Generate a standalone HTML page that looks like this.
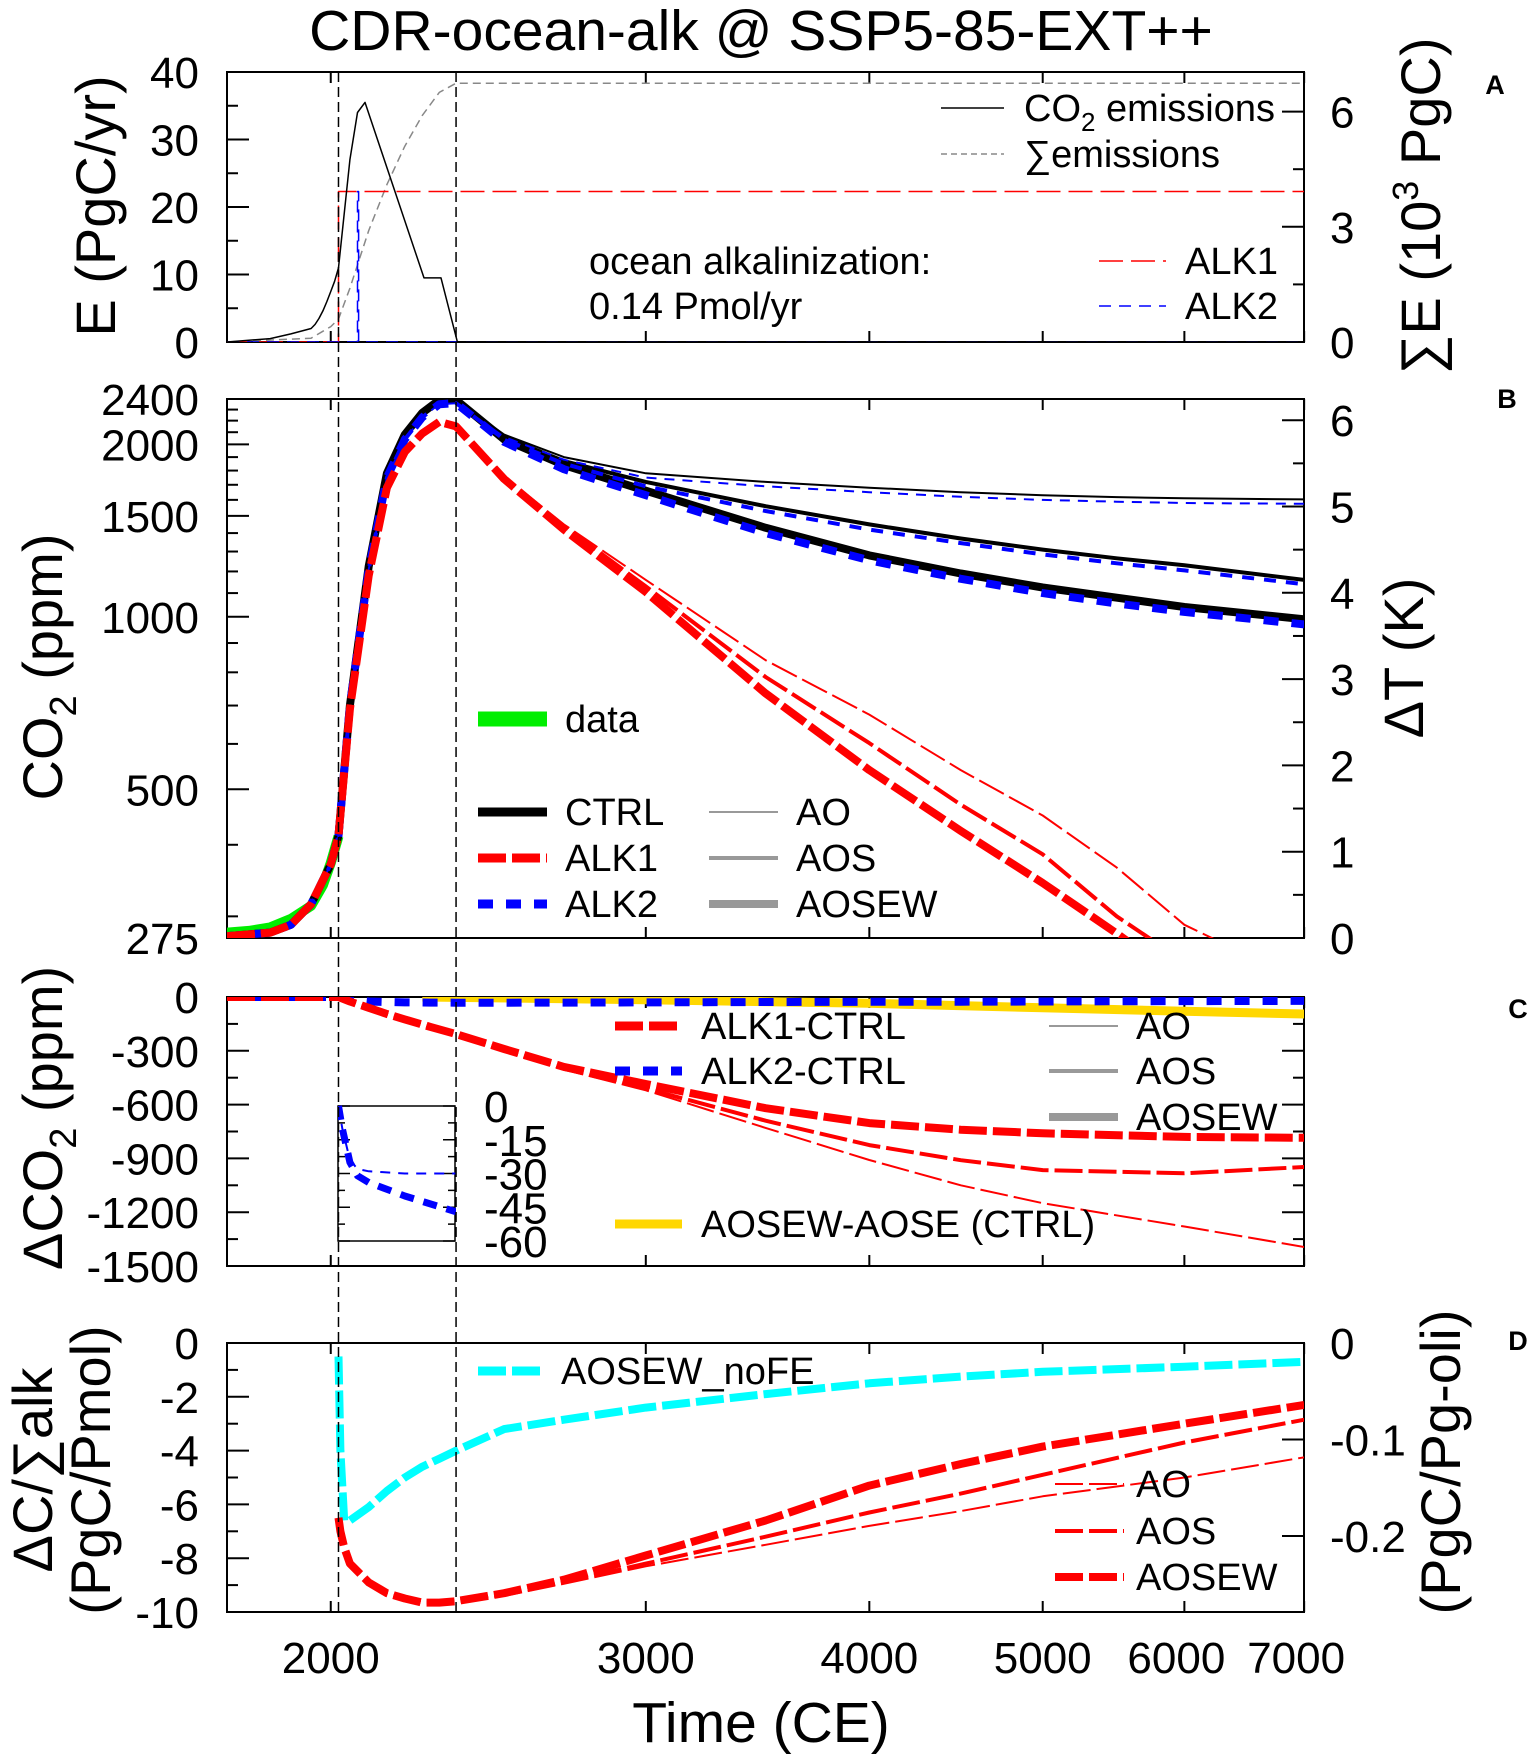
<!DOCTYPE html>
<html><head><meta charset="utf-8">
<style>
html,body{margin:0;padding:0;background:#fff;}
svg{display:block;font-family:"Liberation Sans",Arial,sans-serif;}
</style></head>
<body>
<svg id="chart" xmlns="http://www.w3.org/2000/svg" width="1540" height="1759" viewBox="0 0 1540 1759">
<rect x="0" y="0" width="1540" height="1759" fill="#fff"/>
<defs>
<clipPath id="clipA"><rect x="227" y="72" width="1077" height="270"/></clipPath>
<clipPath id="clipB"><rect x="227" y="399" width="1077" height="539"/></clipPath>
<clipPath id="clipC"><rect x="227" y="997" width="1077" height="269"/></clipPath>
<clipPath id="clipIn"><rect x="338" y="1100" width="118" height="142"/></clipPath>
<clipPath id="clipD"><rect x="227" y="1343" width="1077" height="269"/></clipPath>
</defs>
<g id="layer"></g>
</svg>
<script>
// ---------- data ----------
// Panel A
const tEmis = [1750,1850,1900,1950,1960,1970,1980,1990,2000,2010,2020,2050,2070,2090,2255,2305,2354,7000];
const emissions = [0,0.5,1.2,2,2.6,3.5,4.6,6,7.5,9,11,27,34,35.5,9.5,9.5,0,0];
const tCum = [1750,1950,2000,2020,2050,2100,2150,2200,2250,2300,2350,7000];
const cumEmissions = [0,0.1,0.4,0.6,1.4,2.9,4.1,5.1,5.9,6.5,6.74,6.74];
const tAlk1Rate = [1750,2020,2020,7000];
const alk1Rate = [0,0,22.3,22.3];
const tAlk2Rate = [1750,2070,2070,2073,2073,7000];
const alk2Rate = [0,0,22.3,22.3,0,0];
// Panel B (ppm)
const tB = [1750,1850,1900,1950,2000,2020,2050,2100,2150,2200,2250,2300,2350,2500,2700,3000,3500,4000,4500,5000,5500,6000,7000];
const ctrlAO    = [277,281,290,315,370,415,700,1225,1780,2080,2270,2390,2390,2080,1900,1780,1720,1680,1650,1630,1618,1610,1603];
const ctrlAOS   = [277,281,290,315,370,415,700,1225,1780,2080,2270,2390,2390,2060,1870,1720,1560,1450,1370,1310,1265,1230,1160];
const ctrlAOSEW = [277,281,290,315,370,415,700,1225,1780,2080,2270,2390,2390,2040,1840,1660,1430,1280,1190,1125,1080,1040,990];
const alk2AO    = [277,281,290,315,370,415,700,1210,1750,2040,2230,2350,2360,2060,1880,1750,1690,1650,1620,1600,1588,1580,1575];
const alk2AOS   = [277,281,290,315,370,415,700,1210,1750,2040,2230,2350,2360,2040,1850,1690,1530,1420,1345,1285,1240,1205,1140];
const alk2AOSEW = [277,281,290,315,370,415,700,1210,1750,2040,2230,2350,2360,2020,1810,1630,1400,1255,1165,1100,1055,1020,970];
const alk1AO    = [277,281,290,315,370,415,690,1180,1680,1940,2090,2190,2150,1760,1450,1160,840,675,540,450,365,290,230];
const alk1AOS   = [277,281,290,315,370,415,690,1180,1680,1940,2090,2190,2150,1750,1440,1130,785,602,470,385,300,250,195];
const alk1AOSEW = [277,281,290,315,370,415,690,1180,1680,1940,2090,2190,2150,1740,1420,1105,735,540,423,343,280,230,180];
const tData = [1750,1800,1850,1900,1950,1980,2000,2020];
const co2Data = [281,283,287,297,313,340,372,414];
// Panel C (ppm)
const tC = [1750,2000,2020,2050,2100,2150,2200,2275,2350,2500,2700,3000,3500,4000,4500,5000,6000,7000];
const dAlk1AO    = [0,0,0,-25,-60,-95,-125,-170,-210,-300,-405,-520,-730,-909,-1050,-1150,-1280,-1394];
const dAlk1AOS   = [0,0,0,-25,-60,-95,-125,-170,-210,-295,-400,-510,-690,-826,-910,-965,-983,-948];
const dAlk1AOSEW = [0,0,0,-25,-60,-95,-125,-168,-207,-290,-390,-485,-620,-703,-740,-760,-780,-785];
const dAlk2      = [0,0,0,-15,-25,-28,-30,-31,-32,-32,-31,-30,-28,-27,-26,-25,-23,-22];
const tYel = [2250,3000,4000,5000,6000,7000];
const dWeather = [0,-15,-35,-60,-80,-95];
const tInset = [2020,2030,2050,2070,2100,2200,2350];
const insetThick = [0,-10,-25,-31,-34,-40,-47];
const insetThin  = [0,-10,-24,-28,-29,-30,-30];
// Panel D
const tD = [2020,2025,2035,2050,2100,2150,2200,2250,2300,2350,2500,2700,3000,3500,4000,4500,5000,6000,7000];
const noFE     = [-0.5,-4,-6.6,-6.6,-6.1,-5.5,-5.0,-4.6,-4.3,-4.0,-3.2,-2.85,-2.4,-1.9,-1.5,-1.25,-1.07,-0.88,-0.7];
const effAOSEW = [-6.5,-7.0,-7.6,-8.2,-8.9,-9.3,-9.5,-9.65,-9.65,-9.6,-9.3,-8.8,-7.9,-6.6,-5.3,-4.5,-3.85,-3.0,-2.3];
const effAOS   = [-6.5,-7.0,-7.6,-8.2,-8.9,-9.3,-9.5,-9.65,-9.65,-9.6,-9.35,-8.9,-8.2,-7.2,-6.3,-5.6,-4.9,-3.7,-2.85];
const effAO    = [-6.5,-7.0,-7.6,-8.2,-8.9,-9.3,-9.5,-9.65,-9.65,-9.6,-9.4,-8.95,-8.3,-7.5,-6.8,-6.25,-5.7,-5.0,-4.25];
// ticks
const xTicks = [2000,3000,4000,5000,6000,7000];
const xTickLabels = ["2000","3000","4000","5000","6000","7000"];
const aLeftTicks = [0,10,20,30,40];
const aRightTicks = [0,3,6];
const bLeftTicks = [275,500,1000,1500,2000,2400];
const bLeftMinor = [300,400,600,700,800,900,1100,1200,1300,1400,1600,1700,1800,1900,2100,2200,2300];
const bRightTicks = [0,1,2,3,4,5,6];
const cTicks = [0,-300,-600,-900,-1200,-1500];
const insetTicks = [0,-15,-30,-45,-60];
const dLeftTicks = [0,-2,-4,-6,-8,-10];
const dRightTicks = [0,-0.1,-0.2];

// ---------- scales ----------
const X = t => 227 + 777*Math.log(t/1750);
const XL = 227, XR = 1304;
const yA = v => 342 - 6.75*v;
const yAr = v => 342 - 38.4*v;
const yB = v => 938 - 248.8*Math.log(v/275);
const yBr = v => 938 - 86.3*v;
const yC = v => 997 - v*269/1500;
const yIn = v => 1106 - v*135/60;
const yD = v => 1343 - v*26.9;
const yDr = v => 1343 - v*965;

const NS = "http://www.w3.org/2000/svg";
const layer = document.getElementById('layer');
function mk(tag, attrs, parent){
  const e = document.createElementNS(NS, tag);
  for (const k in attrs) e.setAttribute(k, attrs[k]);
  (parent||layer).appendChild(e);
  return e;
}
function series(ts, vs, yf, stroke, width, dash, clip, name){
  let d = '';
  for (let i=0;i<ts.length;i++){ d += (i?'L':'M') + X(ts[i]).toFixed(1) + ',' + yf(vs[i]).toFixed(1); }
  const p = mk('path', {d:d, fill:'none', stroke:stroke, 'stroke-width':width, 'stroke-linejoin':'round', 'clip-path':'url(#'+clip+')'});
  if (dash) p.setAttribute('stroke-dasharray', dash);
  
  
  return p;
}
function txt(x, y, s, size, anchor, name, extra){
  const t = mk('text', {x:x, y:y, 'font-size':size, 'text-anchor':anchor||'start', fill:'#000'});
  if (extra) for (const k in extra) t.setAttribute(k, extra[k]);
  t.textContent = s;
  
  
  return t;
}
function line(x1,y1,x2,y2,stroke,w,dash,name){
  const l = mk('line',{x1:x1,y1:y1,x2:x2,y2:y2,stroke:stroke,'stroke-width':w});
  if (dash) l.setAttribute('stroke-dasharray', dash);
  
  
  return l;
}
function frame(top, bot, name){
  const r = mk('rect',{x:XL,y:top,width:XR-XL,height:bot-top,fill:'none',stroke:'#000','stroke-width':2});
  
  
  xTicks.forEach(t=>{
    line(X(t),bot,X(t),bot-11,'#000',2,null,'x-tick');
    line(X(t),top,X(t),top+11,'#000',2,null,'x-tick');
  });
}
const TF = 44;

// title
txt(761, 50, 'CDR-ocean-alk @ SSP5-85-EXT++', 57, 'middle', 'chart-title');

// ---------- Panel A ----------
frame(72, 342, 'panel-a-frame');
aLeftTicks.forEach(v=>{ line(XL,yA(v),XL+22,yA(v),'#000',2,null,'a-left-tick'); txt(199,yA(v)+16,String(v),TF,'end','a-left-tick-label'); });
[5,15,25,35].forEach(v=>line(XL,yA(v),XL+11,yA(v),'#000',2,null,'a-left-minor-tick'));
aRightTicks.forEach(v=>{ line(XR,yAr(v),XR-22,yAr(v),'#000',2,null,'a-right-tick'); txt(1330,yAr(v)+16,String(v),TF,'start','a-right-tick-label'); });
[1.5,4.5].forEach(v=>line(XR,yAr(v),XR-11,yAr(v),'#000',2,null,'a-right-minor-tick'));
series(tCum, cumEmissions, yAr, '#888', 1.5, '8,5', 'clipA', 'cumulative-emissions-line');
series(tAlk1Rate, alk1Rate, yA, '#ff0000', 1.5, '24,8', 'clipA', 'alk1-rate-line');
series(tAlk2Rate, alk2Rate, yA, '#0000ff', 1.5, '12,8', 'clipA', 'alk2-rate-line');
series(tEmis, emissions, yA, '#000', 1.5, null, 'clipA', 'co2-emissions-line');
line(941,108,1004,108,'#000',1.5,null,'legend-co2-emissions-line');
(function(){const t=txt(1024,121,'CO',38,'start','legend-co2-emissions');const s=document.createElementNS(NS,'tspan');s.setAttribute('font-size','26');s.setAttribute('dy','10');s.textContent='2';t.appendChild(s);const s2=document.createElementNS(NS,'tspan');s2.setAttribute('dy','-10');s2.textContent=' emissions';t.appendChild(s2);})();
line(941,154,1004,154,'#888',1.5,'6,4','legend-cum-emissions-line');
txt(1024,167,'∑emissions',38,'start','legend-cum-emissions');
txt(589,274,'ocean alkalinization:',38,'start','alkalinization-note');
txt(589,319,'0.14 Pmol/yr',38,'start','alkalinization-rate-note');
line(1099,261,1166,261,'#ff0000',1.5,'24,8','legend-alk1-line');
txt(1185,274,'ALK1',38,'start','legend-alk1');
line(1099,306,1166,306,'#0000ff',1.5,'12,8','legend-alk2-line');
txt(1185,319,'ALK2',38,'start','legend-alk2');
txt(0,0,'E (PgC/yr)',56,'middle','a-left-axis-title',{transform:'translate(115,206) rotate(-90)'});
(function(){const t=txt(0,0,'∑E (10',56,'middle','a-right-axis-title',{transform:'translate(1440,206) rotate(-90)'});const s=document.createElementNS(NS,'tspan');s.setAttribute('font-size','36');s.setAttribute('dy','-22');s.textContent='3';t.appendChild(s);const s2=document.createElementNS(NS,'tspan');s2.setAttribute('dy','22');s2.textContent=' PgC)';t.appendChild(s2);})();
txt(1495,94,'A',27,'middle','panel-a-label',{'font-weight':'bold'});

// ---------- Panel B ----------
frame(399, 938, 'panel-b-frame');
bLeftTicks.forEach(v=>{ line(XL,yB(v),XL+22,yB(v),'#000',2,null,'b-left-tick'); txt(199,yB(v)+16,String(v),TF,'end','b-left-tick-label'); });
bLeftMinor.forEach(v=>line(XL,yB(v),XL+11,yB(v),'#000',2,null,'b-left-minor-tick'));
bRightTicks.forEach(v=>{ line(XR,yBr(v),XR-22,yBr(v),'#000',2,null,'b-right-tick'); txt(1330,yBr(v)+16,String(v),TF,'start','b-right-tick-label'); });
[0.5,1.5,2.5,3.5,4.5,5.5].forEach(v=>line(XR,yBr(v),XR-11,yBr(v),'#000',2,null,'b-right-minor-tick'));
series(tData, co2Data, yB, '#00ee00', 10, null, 'clipB', 'co2-data-line');
series(tB, ctrlAO, yB, '#000', 2, null, 'clipB', 'ctrl-ao-line');
series(tB, ctrlAOS, yB, '#000', 4, null, 'clipB', 'ctrl-aos-line');
series(tB, ctrlAOSEW, yB, '#000', 8, null, 'clipB', 'ctrl-aosew-line');
series(tB, alk2AO, yB, '#0000ff', 2, '10,8', 'clipB', 'alk2-ao-line');
series(tB, alk2AOS, yB, '#0000ff', 4, '12,10', 'clipB', 'alk2-aos-line');
series(tB, alk2AOSEW, yB, '#0000ff', 8, '15,13', 'clipB', 'alk2-aosew-line');
series(tB, alk1AO, yB, '#ff0000', 2, '28,6', 'clipB', 'alk1-ao-line');
series(tB, alk1AOS, yB, '#ff0000', 4, '28,6', 'clipB', 'alk1-aos-line');
series(tB, alk1AOSEW, yB, '#ff0000', 8, '28,6', 'clipB', 'alk1-aosew-line');
line(478,719,547,719,'#00ee00',15,null,'legend-data-line'); txt(565,732,'data',38,'start','legend-data');
line(478,812,547,812,'#000',9,null,'legend-ctrl-line'); txt(565,825,'CTRL',38,'start','legend-ctrl');
line(478,858,547,858,'#ff0000',9,'28,6','legend-alk1-b-line'); txt(565,871,'ALK1',38,'start','legend-alk1-b');
line(478,904,547,904,'#0000ff',9,'15,13','legend-alk2-b-line'); txt(565,917,'ALK2',38,'start','legend-alk2-b');
line(709,812,778,812,'#999',2,null,'legend-ao-line'); txt(796,825,'AO',38,'start','legend-ao');
line(709,858,778,858,'#999',4,null,'legend-aos-line'); txt(796,871,'AOS',38,'start','legend-aos');
line(709,904,778,904,'#999',8,null,'legend-aosew-line'); txt(796,917,'AOSEW',38,'start','legend-aosew');
(function(){const t=txt(0,0,'CO',56,'middle','b-left-axis-title',{transform:'translate(62,667) rotate(-90)'});const s=document.createElementNS(NS,'tspan');s.setAttribute('font-size','38');s.setAttribute('dy','14');s.textContent='2';t.appendChild(s);const s2=document.createElementNS(NS,'tspan');s2.setAttribute('dy','-14');s2.textContent=' (ppm)';t.appendChild(s2);})();
txt(0,0,'ΔT (K)',56,'middle','b-right-axis-title',{transform:'translate(1423,658) rotate(-90)'});
txt(1507,408,'B',27,'middle','panel-b-label',{'font-weight':'bold'});

// ---------- Panel C ----------
frame(997, 1266, 'panel-c-frame');
cTicks.forEach(v=>{ line(XL,yC(v),XL+22,yC(v),'#000',2,null,'c-left-tick'); line(XR,yC(v),XR-22,yC(v),'#000',2,null,'c-right-tick'); txt(199,yC(v)+16,String(v),TF,'end','c-left-tick-label'); });
[-150,-450,-750,-1050,-1350].forEach(v=>{line(XL,yC(v),XL+11,yC(v),'#000',2,null,'c-left-minor-tick');line(XR,yC(v),XR-11,yC(v),'#000',2,null,'c-right-minor-tick');});
series(tYel, dWeather, yC, '#ffd700', 9, null, 'clipC', 'aosew-minus-aose-line');
series(tC, dAlk2, yC, '#0000ff', 8, '15,13', 'clipC', 'alk2-minus-ctrl-line');
series(tC, dAlk1AO, yC, '#ff0000', 2, '28,6', 'clipC', 'alk1-minus-ctrl-ao-line');
series(tC, dAlk1AOS, yC, '#ff0000', 4, '28,6', 'clipC', 'alk1-minus-ctrl-aos-line');
series(tC, dAlk1AOSEW, yC, '#ff0000', 8, '28,6', 'clipC', 'alk1-minus-ctrl-aosew-line');
// inset
(function(){const r=mk('rect',{x:338,y:1106,width:117,height:135,fill:'#fff',stroke:'#000','stroke-width':1.5});})();
insetTicks.forEach(v=>{ line(338,yIn(v),350,yIn(v),'#000',1.5,null,'inset-tick'); line(455,yIn(v),443,yIn(v),'#000',1.5,null,'inset-tick'); txt(484,yIn(v)+16,String(v),TF,'start','inset-tick-label'); });
[-7.5,-22.5,-37.5,-52.5].forEach(v=>{line(338,yIn(v),345,yIn(v),'#000',1.5,null,'inset-minor-tick');line(455,yIn(v),448,yIn(v),'#000',1.5,null,'inset-minor-tick');});
series(tInset, insetThin, yIn, '#0000ff', 2, '10,8', 'clipIn', 'inset-alk2-thin-line');
series(tInset, insetThick, yIn, '#0000ff', 7, '14,10', 'clipIn', 'inset-alk2-thick-line');
line(615,1026,682,1026,'#ff0000',9,'28,6','legend-alk1-ctrl-line'); txt(701,1039,'ALK1-CTRL',38,'start','legend-alk1-ctrl');
line(615,1071,682,1071,'#0000ff',9,'15,13','legend-alk2-ctrl-line'); txt(701,1084,'ALK2-CTRL',38,'start','legend-alk2-ctrl');
line(615,1224,682,1224,'#ffd700',9,null,'legend-aosew-aose-line'); txt(701,1237,'AOSEW-AOSE (CTRL)',38,'start','legend-aosew-aose');
line(1049,1026,1118,1026,'#999',2,null,'legend-c-ao-line'); txt(1136,1039,'AO',38,'start','legend-c-ao');
line(1049,1071,1118,1071,'#999',4,null,'legend-c-aos-line'); txt(1136,1084,'AOS',38,'start','legend-c-aos');
line(1049,1117,1118,1117,'#999',8,null,'legend-c-aosew-line'); txt(1136,1130,'AOSEW',38,'start','legend-c-aosew');
(function(){const t=txt(0,0,'ΔCO',56,'middle','c-left-axis-title',{transform:'translate(62,1118) rotate(-90)'});const s=document.createElementNS(NS,'tspan');s.setAttribute('font-size','38');s.setAttribute('dy','14');s.textContent='2';t.appendChild(s);const s2=document.createElementNS(NS,'tspan');s2.setAttribute('dy','-14');s2.textContent=' (ppm)';t.appendChild(s2);})();
txt(1518,1018,'C',27,'middle','panel-c-label',{'font-weight':'bold'});

// ---------- Panel D ----------
frame(1343, 1612, 'panel-d-frame');
dLeftTicks.forEach(v=>{ line(XL,yD(v),XL+22,yD(v),'#000',2,null,'d-left-tick'); txt(199,yD(v)+16,String(v),TF,'end','d-left-tick-label'); });
[-1,-3,-5,-7,-9].forEach(v=>line(XL,yD(v),XL+11,yD(v),'#000',2,null,'d-left-minor-tick'));
dRightTicks.forEach(v=>{ line(XR,yDr(v),XR-22,yDr(v),'#000',2,null,'d-right-tick'); txt(1330,yDr(v)+16,String(v),TF,'start','d-right-tick-label'); });
series(tD, noFE, yD, '#00ffff', 8, '28,6', 'clipD', 'aosew-nofe-line');
series(tD, effAO, yD, '#ff0000', 2, '28,6', 'clipD', 'efficiency-ao-line');
series(tD, effAOS, yD, '#ff0000', 4, '28,6', 'clipD', 'efficiency-aos-line');
series(tD, effAOSEW, yD, '#ff0000', 8, '28,6', 'clipD', 'efficiency-aosew-line');
line(478,1371,545,1371,'#00ffff',9,'28,6','legend-nofe-line'); txt(561,1384,'AOSEW_noFE',38,'start','legend-nofe');
line(1055,1484,1124,1484,'#ff0000',2,'28,6','legend-d-ao-line'); txt(1136,1497,'AO',38,'start','legend-d-ao');
line(1055,1531,1124,1531,'#ff0000',4,'28,6','legend-d-aos-line'); txt(1136,1544,'AOS',38,'start','legend-d-aos');
line(1055,1577,1124,1577,'#ff0000',8,'28,6','legend-d-aosew-line'); txt(1136,1590,'AOSEW',38,'start','legend-d-aosew');
txt(0,0,'ΔC/∑alk',56,'middle','d-left-axis-title',{transform:'translate(52,1470) rotate(-90)'});
txt(0,0,'(PgC/Pmol)',56,'middle','d-left-axis-unit',{transform:'translate(110,1470) rotate(-90)'});
txt(0,0,'(PgC/Pg-oli)',56,'middle','d-right-axis-title',{transform:'translate(1460,1462) rotate(-90)'});
txt(1518,1350,'D',27,'middle','panel-d-label',{'font-weight':'bold'});

// x tick labels + title
xTicks.forEach((t,i)=>{ txt(X(t)-(i>=4?8:0),1673,xTickLabels[i],TF,'middle','x-tick-label'); });
txt(761,1742,'Time (CE)',57,'middle','x-axis-title');

// vertical dashed reference lines
[2020,2350].forEach(t=>line(X(t),72,X(t),1612,'#000',1.5,'10,5','reference-year-line'));
</script>
</body></html>
